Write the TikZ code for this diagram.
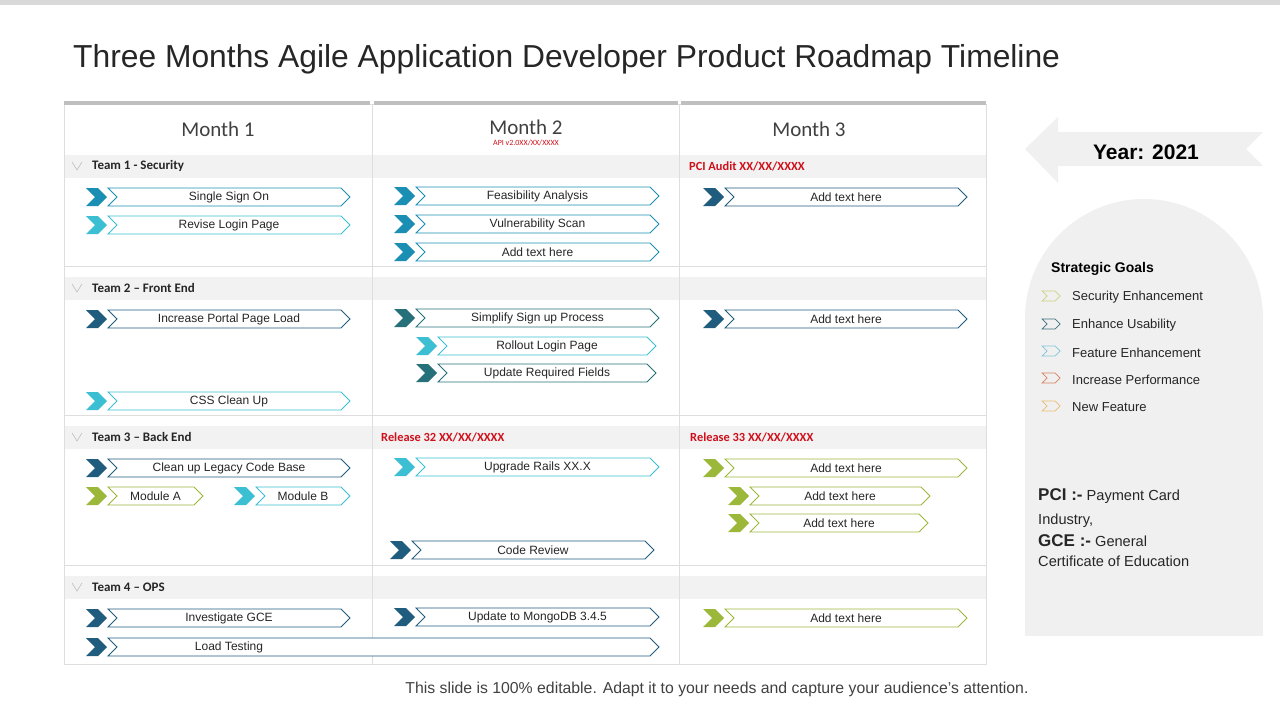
\documentclass[tikz,border=0pt]{standalone}
\usepackage{fontspec}
\setmainfont{Liberation Sans}
\newfontfamily\calibri{Carlito}
\usetikzlibrary{shapes.symbols,positioning}

\definecolor{navy}{HTML}{1F5C7E}
\definecolor{blue}{HTML}{1B8EB3}
\definecolor{cyan}{HTML}{3CBFD3}
\definecolor{teal}{HTML}{26707A}
\definecolor{green}{HTML}{9CB83A}
\definecolor{txt}{HTML}{262626}
\definecolor{alert}{HTML}{D0101B}
\definecolor{gridc}{HTML}{DEDEDE}
\definecolor{bandc}{HTML}{F2F2F2}
\definecolor{panelc}{HTML}{F0F0F0}
\definecolor{lgA}{HTML}{CBD47E}
\definecolor{lgB}{HTML}{3D6E7D}
\definecolor{lgC}{HTML}{7FC6D8}
\definecolor{lgD}{HTML}{D9805E}
\definecolor{lgE}{HTML}{EBBE70}

\tikzset{
  taskbox/.style={signal, signal from=west, signal to=east, draw, fill=white,
    line width=0.8pt, minimum height=18pt, inner sep=0pt, text=txt,
    font=\fontsize{12}{12}\selectfont},
  chev/.style={signal, signal from=west, signal to=east, minimum width=21pt,
    minimum height=18pt, inner sep=0pt},
  legchev/.style={signal, signal from=west, signal to=east, minimum width=18pt,
    minimum height=10pt, inner sep=0pt, line width=0.7pt},
  team/.style={anchor=west, inner sep=0pt, text=txt, font=\calibri\bfseries\fontsize{13}{14}\selectfont},
  release/.style={anchor=west, inner sep=0pt, text=alert, font=\calibri\bfseries\fontsize{12.4}{13}\selectfont},
  month/.style={inner sep=0pt, text=black!75, font=\calibri\fontsize{21}{22}\selectfont},
  grid/.style={draw=gridc, line width=0.8pt},
}

\begin{document}
\begin{tikzpicture}[x=1pt,y=-1pt]
\useasboundingbox (0,0) rectangle (1280,720);
\fill[black!15] (0,0) rectangle (1280,5);

\node[anchor=base west, inner sep=0pt, text=txt, font=\fontsize{31.8}{33}\selectfont] (title) at (73,67)
  {Three Months Agile Application Developer Product Roadmap Timeline};

% Tabla
\foreach \y in {155,277,426,576}
  \fill[bandc] (64,\y) rectangle (986,\y+23);
\draw[grid] (64,104) rectangle (986,664);
\foreach \x in {372,679}
  \draw[grid] (\x,104) -- (\x,664);
\foreach \y in {266,415,565}
  \draw[grid] (64,\y) -- (986,\y);
\foreach \xa/\xb in {64/370, 374/678, 681/986}
  \fill[black!25] (\xa,101) rectangle (\xb,105);

\node[month] (m1) at (218,129) {Month 1};
\node[month] (m2) at (526,127) {Month 2};
\node[month] (m3) at (809,129) {Month 3};
\node[inner sep=0pt, text=alert, font=\calibri\fontsize{8}{8}\selectfont, below=5pt of m2] (api) {API v2.0XX/XX/XXXX};

% Equipos
\foreach \y/\t [count=\i] in {166/Team 1 - Security, 288/Team 2 – Front End, 437/Team 3 – Back End, 587/Team 4 – OPS}
{
  \draw[black!25, line width=0.6pt] (72,\y-4) -- (77,\y+4) -- (82,\y-4);
  \node[team] (team\i) at (92,\y) {\t};
}
\node[release] (pci) at (689,166) {PCI Audit XX/XX/XXXX};
\node[release] (r32) at (381,437) {Release 32 XX/XX/XXXX};
\node[release] (r33) at (690,437) {Release 33 XX/XX/XXXX};

% Tareas
\foreach \n/\xa/\xb/\y/\c/\t in {
  s1/108/350/197/blue/Single Sign On,
  s2/108/350/225/cyan/Revise Login Page,
  f1/108/350/319/navy/Increase Portal Page Load,
  f2/108/350/401/cyan/CSS Clean Up,
  b1/108/350/468/navy/Clean up Legacy Code Base,
  b2/108/203/496/green/Module A,
  b3/256/350/496/cyan/Module B,
  o1/108/350/618/navy/Investigate GCE,
  s3/416/659/196/blue/Feasibility Analysis,
  s4/416/659/224/blue/Vulnerability Scan,
  s5/416/659/252/blue/Add text here,
  f3/416/659/318/teal/Simplify Sign up Process,
  f4/438/656/346/cyan/Rollout Login Page,
  f5/438/656/373/teal/Update Required Fields,
  b4/416/659/467/cyan/Upgrade Rails XX.X,
  b5/412/654/550/navy/Code Review,
  o2/416/659/617/navy/Update to MongoDB 3.4.5,
  s6/725/967/197/navy/Add text here,
  f6/725/967/319/navy/Add text here,
  b6/725/967/468/green/Add text here,
  b7/750/930/496/green/Add text here,
  b8/750/928/523/green/Add text here,
  o3/725/967/618/green/Add text here,
  o4/108/659/647/navy/}
{
  \node[taskbox, draw=\c, minimum width={(\xb-\xa)*1pt}] (\n) at ({(\xa+\xb)/2},\y) {\t};
  \node[chev, fill=\c] (\n c) at (\xa-11.5,\y) {};
}
\node[inner sep=0pt, text=txt, font=\fontsize{12}{12}\selectfont] (lt) at (229,647) {Load Testing};

% Panel derecho
\fill[panelc] (1025,149) -- (1058,117) -- (1058,132) -- (1263,132) -- (1246,149)
  -- (1263,166) -- (1058,166) -- (1058,183) -- cycle;
\node[inner sep=0pt, font=\bfseries\fontsize{21}{22}\selectfont] (year) at (1146,152) {Year: 2021};

\fill[panelc] (1144,318) circle[radius=119];
\fill[panelc] (1025,318) rectangle (1263,636);

\node[anchor=west, inner sep=0pt, font=\bfseries\fontsize{14}{15}\selectfont] (goals) at (1051,268.5) {Strategic Goals};
\foreach \y/\c/\t [count=\i] in {296/lgA/Security Enhancement, 324/lgB/Enhance Usability,
  351/lgC/Feature Enhancement, 378/lgD/Increase Performance, 406/lgE/New Feature}
{
  \node[legchev, draw=\c] (g\i) at (1051,\y) {};
  \node[anchor=west, inner sep=0pt, text=txt, font=\fontsize{13}{14}\selectfont] (gt\i) at (1072,\y+1.5) {\t};
}

\node[anchor=north west, inner sep=0pt, align=left, text=txt, font=\fontsize{14.6}{22}\selectfont] (abbr) at (1038,488)
  {{\bfseries\fontsize{17}{18}\selectfont PCI :-} Payment Card\\[2pt]
   Industry,\\[0pt]
   {\bfseries\fontsize{17}{18}\selectfont GCE :-} General\\[-2pt]
   Certificate of Education};

\node[inner sep=0pt, text=black!75, font=\fontsize{15.8}{17}\selectfont] (foot) at (717,689)
  {This slide is 100\% editable. Adapt it to your needs and capture your audience's attention.};
\end{tikzpicture}
\end{document}
